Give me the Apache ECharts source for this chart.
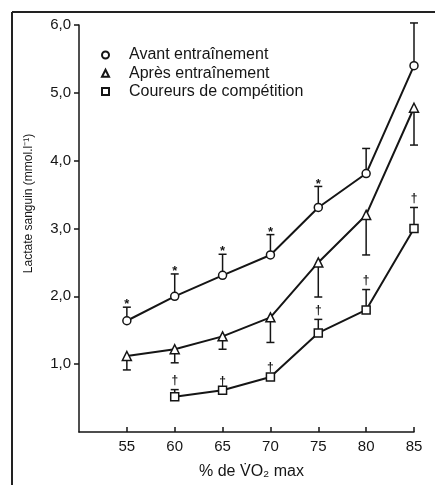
<!DOCTYPE html>
<html>
<head>
<meta charset="utf-8">
<script src="https://cdn.jsdelivr.net/npm/echarts@6/dist/echarts.min.js"></script>
<style>
  html, body { margin: 0; padding: 0; background: #fff; }
  #chart { width: 435px; height: 485px; }
</style>
</head>
<body>
<div id="chart"></div>
<script>
// % de VO2 max
const xValues = [55, 60, 65, 70, 75, 80, 85]
const xTicks = [55, 60, 65, 70, 75, 80, 85]
const yTicks = [1, 2, 3, 4, 5, 6]

// lactate sanguin (mmol/l)
const avant = [1.64, 2.0, 2.31, 2.61, 3.31, 3.81, 5.40]
const avantErr = [1.84, 2.33, 2.62, 2.91, 3.62, 4.18, 6.03]
const avantMarks = ['*', '*', '*', '*', '*', '', '']

const apres = [1.12, 1.22, 1.41, 1.69, 2.50, 3.20, 4.78]
const apresErr = [0.915, 1.02, 1.22, 1.32, 1.99, 2.61, 4.23]
const apresMarks = ['', '', '', '', '', '', '']

const coureurs = [null, 0.52, 0.615, 0.81, 1.46, 1.80, 3.00]
const coureursErr = [null, 0.625, null, null, 1.66, 2.10, 3.31]
const coureursMarks = ['', '†', '†', '†', '†', '†', '†']

const seriesNames = ['Avant entraînement', 'Après entraînement', 'Coureurs de compétition']

const font = '"Liberation Sans", Arial, sans-serif'
const ink = '#151515'

function pairs(vals) {
  return xValues.map((x, i) => [x, vals[i]])
}

function errData(vals, errs) {
  const out = []
  xValues.forEach((x, i) => {
    if (vals[i] == null) return
    out.push([x, vals[i], errs[i] == null ? vals[i] : errs[i], i])
  })
  return out
}

function errSeries(vals, errs, marks) {
  return {
    type: 'custom',
    z: 1,
    silent: true,
    data: errData(vals, errs),
    renderItem(params, api) {
      const x = api.value(0)
      const p0 = api.coord([x, api.value(1)])
      const p1 = api.coord([x, api.value(2)])
      const mark = marks[api.value(3)]
      const children = []
      if (Math.abs(p1[1] - p0[1]) > 1) {
        const st = { stroke: ink, lineWidth: 1.5 }
        children.push({ type: 'line', shape: { x1: p0[0], y1: p0[1], x2: p1[0], y2: p1[1] }, style: st })
        children.push({ type: 'line', shape: { x1: p1[0] - 4, y1: p1[1], x2: p1[0] + 4, y2: p1[1] }, style: st })
      }
      if (mark) {
        const top = Math.min(p0[1], p1[1]) - (mark === '*' ? 6 : 9)
        children.push({
          type: 'text',
          style: {
            x: p0[0], y: top, text: mark,
            fill: ink, font: 'bold ' + (mark === '*' ? '13px ' : '12px ') + font,
            align: 'center', verticalAlign: mark === '*' ? 'top' : 'middle'
          },
          y: mark === '*' ? -3 : 0
        })
      }
      return { type: 'group', children }
    }
  }
}

function lineSeries(name, vals, symbol, size) {
  return {
    name,
    type: 'line',
    z: 2,
    data: pairs(vals),
    symbol,
    symbolSize: size,
    showAllSymbol: true,
    lineStyle: { color: ink, width: 2 },
    itemStyle: { color: '#fff', borderColor: ink, borderWidth: 1.5 },
    emphasis: { disabled: true },
    animation: false
  }
}

const chart = echarts.init(document.getElementById('chart'))

chart.setOption({
  animation: false,
  backgroundColor: '#fff',
  textStyle: { fontFamily: font, color: ink },
  grid: { left: 79, right: 21, top: 25, bottom: 46 },
  legend: {
    orient: 'vertical',
    left: 96,
    top: 42,
    itemWidth: 7,
    itemHeight: 7,
    itemGap: 2.3,
    selectedMode: false,
    data: [
      { name: seriesNames[0], icon: 'circle' },
      { name: seriesNames[1], icon: 'triangle' },
      { name: seriesNames[2], icon: 'rect' }
    ],
    textStyle: { fontFamily: font, fontSize: 16, color: ink, lineHeight: 16, padding: [0, 0, 0, 15] }
  },
  xAxis: {
    type: 'value',
    min: 50,
    max: 85,
    interval: 5,
    name: '% de V\u0307O\u2082 max',
    nameLocation: 'middle',
    nameGap: 32,
    nameTextStyle: { fontFamily: font, fontSize: 16, color: ink, padding: [0, 0, 0, 10] },
    axisLine: { lineStyle: { color: ink, width: 1.5 } },
    axisTick: { inside: true, length: 5, lineStyle: { color: ink, width: 1.5 }, customValues: xTicks },
    axisLabel: { fontFamily: font, fontSize: 15, color: ink, margin: 7, customValues: xTicks },
    splitLine: { show: false }
  },
  yAxis: {
    type: 'value',
    min: 0,
    max: 6,
    interval: 1,
    name: 'Lactate sanguin (mmol.l\u207B\u00B9)',
    nameLocation: 'middle',
    nameGap: 44,
    nameTextStyle: { fontFamily: font, fontSize: 12, color: ink, padding: [0, 0, 0, 50] },
    axisLine: { show: true, lineStyle: { color: ink, width: 1.5 } },
    axisTick: { show: true, length: 5, lineStyle: { color: ink, width: 1.5 }, customValues: yTicks },
    axisLabel: {
      fontFamily: font, fontSize: 15, color: ink, margin: 8,
      customValues: yTicks,
      formatter: v => v.toFixed(1).replace('.', ',')
    },
    splitLine: { show: false }
  },
  graphic: [
    { type: 'line', shape: { x1: 12, y1: 12, x2: 435, y2: 12 }, style: { stroke: '#222', lineWidth: 2 } },
    { type: 'line', shape: { x1: 12, y1: 12, x2: 12, y2: 485 }, style: { stroke: '#222', lineWidth: 2 } }
  ],
  series: [
    errSeries(avant, avantErr, avantMarks),
    errSeries(apres, apresErr, apresMarks),
    errSeries(coureurs, coureursErr, coureursMarks),
    lineSeries(seriesNames[0], avant, 'circle', 8),
    lineSeries(seriesNames[1], apres, 'triangle', 9),
    lineSeries(seriesNames[2], coureurs, 'rect', 8)
  ]
})
</script>
</body>
</html>
